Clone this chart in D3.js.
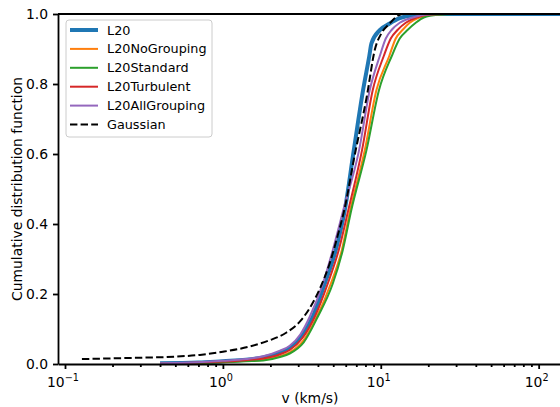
<!DOCTYPE html>
<html lang="en">
<head>
  <meta charset="UTF-8"/>
  <title>Cumulative distribution of v</title>
  <script src="https://d3js.org/d3.v7.min.js"></script>
  <style>
    body { margin: 0; background: white; }
    svg text { font-family: "DejaVu Sans", sans-serif; fill: black; }
  </style>
</head>
<body>
<script>
  var w = 560;
  var h = 407;

  // series names and colours (legend order)
  var names = ["L20", "L20NoGrouping", "L20Standard", "L20Turbulent", "L20AllGrouping", "Gaussian"];
  var colors = ["#1f77b4", "#ff7f0e", "#2ca02c", "#d62728", "#9467bd", "black"];
  var widths = [4, 2, 2, 2, 2, 2];

  // [v (km/s), cdf]
  var l20 = [[0.4,0.002],[0.7,0.004],[1.0,0.008],[1.4,0.012],[1.8,0.019],[2.3,0.032],[2.65,0.045],[3.15,0.08],[3.71,0.135],
    [4.42,0.23],[5.19,0.326],[5.92,0.44],[6.75,0.611],[7.73,0.783],[8.46,0.88],[8.73,0.916],[9.86,0.954],[11.4,0.973],
    [13.19,0.988],[17.15,0.998],[18.99,1.0],[140,1.0]];
  var l20NoGrouping = [[0.4,0.001],[0.7,0.003],[1.0,0.006],[1.4,0.009],[1.8,0.012],[2.3,0.022],[2.65,0.033],[3.25,0.068],[3.94,0.135],
    [4.83,0.23],[5.67,0.326],[6.41,0.44],[7.92,0.611],[9.39,0.783],[11.32,0.88],[12.44,0.93],[13.78,0.955],[15.26,0.975],
    [17.66,0.99],[21.03,0.998],[26.55,1.0],[140,1.0]];
  var l20Standard = [[0.4,0.001],[0.7,0.003],[1.0,0.005],[1.4,0.008],[1.8,0.01],[2.3,0.02],[2.65,0.03],[3.25,0.062],[3.99,0.135],
    [4.97,0.23],[5.75,0.326],[6.51,0.44],[8.12,0.611],[9.75,0.783],[11.74,0.88],[13.19,0.93],[14.83,0.955],[16.66,0.975],
    [18.72,0.99],[22.95,0.998],[29.4,1.0],[140,1.0]];
  var l20Turbulent = [[0.4,0.001],[0.7,0.004],[1.0,0.007],[1.4,0.011],[1.8,0.016],[2.3,0.028],[2.65,0.04],[3.2,0.075],[3.82,0.135],
    [4.62,0.23],[5.42,0.326],[6.23,0.44],[7.61,0.611],[8.9,0.783],[10.45,0.88],[11.57,0.93],[12.81,0.955],[14.4,0.975],
    [16.9,0.99],[19.84,0.998],[25.41,1.0],[140,1.0]];
  var l20AllGrouping = [[0.4,0.002],[0.7,0.005],[1.0,0.009],[1.4,0.014],[1.8,0.022],[2.3,0.038],[2.65,0.052],[3.1,0.085],[3.55,0.135],
    [4.3,0.23],[4.97,0.326],[5.79,0.44],[7.29,0.611],[8.52,0.783],[9.86,0.88],[10.76,0.93],[11.74,0.955],[13.19,0.975],
    [15.94,0.99],[18.99,0.998],[23.63,1.0],[140,1.0]];
  var gaussian = [[0.128,0.014],[0.2,0.016],[0.3,0.018],[0.5,0.021],[0.715,0.026],[1.0,0.035],[1.48,0.05],[1.98,0.068],
    [2.53,0.09],[3.1,0.123],[3.55,0.16],[4.11,0.215],[4.75,0.288],[5.24,0.354],[6.07,0.47],[6.68,0.573],[8.2,0.77],
    [9.16,0.897],[10.1,0.945],[11.4,0.973],[12.8,0.995],[13.5,1.0]];

  var series = [l20, l20NoGrouping, l20Standard, l20Turbulent, l20AllGrouping, gaussian];

  var xMajor = [0.1, 1, 10, 100];
  var xExp = ["\u22121", "0", "1", "2"];
  var yTicks = [0, 0.2, 0.4, 0.6, 0.8, 1.0];

  var plotLeft = 58, plotRight = 586, plotTop = 14, plotBottom = 364;

  var xScale = d3.scaleLog()
          .domain([0.0903, 199.5])
          .range([plotLeft, plotRight]);

  var yScale = d3.scaleLinear()
          .domain([0, 1])
          .range([plotBottom, plotTop]);

  var svg = d3.select("body")
          .append("svg")
          .attr("width", w)
          .attr("height", h);

  svg.append("clipPath")
          .attr("id", "plotclip")
          .append("rect")
          .attr("x", plotLeft)
          .attr("y", plotTop)
          .attr("width", plotRight - plotLeft)
          .attr("height", plotBottom - plotTop);

  var line = d3.line()
          .curve(d3.curveMonotoneX)
          .x(function(d) { return xScale(d[0]); })
          .y(function(d) { return yScale(d[1]); });

  svg.append("g")
          .attr("clip-path", "url(#plotclip)")
          .selectAll("path")
          .data(series)
          .enter()
          .append("path")
          .attr("d", line)
          .attr("fill", "none")
          .attr("stroke", function(d, i) { return colors[i]; })
          .attr("stroke-width", function(d, i) { return widths[i]; })
          .attr("stroke-linejoin", "round")
          .attr("stroke-dasharray", function(d, i) { return names[i] == "Gaussian" ? "7.4,3.2" : null; });

  // x axis: log ticks, labels drawn separately as 10^n
  var minor = [];
  for (var e = -2; e <= 2; e++) {
    for (var k = 2; k <= 9; k++) {
      var v = k * Math.pow(10, e);
      if (v > xScale.domain()[0] && v < xScale.domain()[1]) minor.push(v);
    }
  }

  var xAxis = d3.axisBottom(xScale)
          .tickValues(xMajor)
          .tickSize(5)
          .tickSizeOuter(0)
          .tickFormat("");
  var xMinor = d3.axisBottom(xScale)
          .tickValues(minor)
          .tickSize(3)
          .tickFormat("");

  svg.append("g")
          .attr("transform", "translate(0," + plotBottom + ")")
          .call(xAxis);
  svg.append("g")
          .attr("transform", "translate(0," + plotBottom + ")")
          .call(xMinor)
          .select(".domain").remove();

  var lab = svg.append("g")
          .selectAll("text")
          .data(xMajor)
          .enter()
          .append("text")
          .attr("x", function(d) { return xScale(d) - 2; })
          .attr("y", 387)
          .attr("text-anchor", "middle")
          .style("font-size", "13.9px");
  lab.append("tspan").text("10");
  lab.append("tspan")
          .attr("dy", -6)
          .style("font-size", "9.7px")
          .text(function(d, i) { return xExp[i]; });

  var yAxis = d3.axisLeft(yScale)
          .tickValues(yTicks)
          .tickSize(5)
          .tickSizeOuter(0)
          .tickPadding(5)
          .tickFormat(d3.format(".1f"));

  var gy = svg.append("g")
          .attr("transform", "translate(" + plotLeft + ",0)")
          .call(yAxis);
  gy.selectAll("text")
          .style("font-size", "13.9px")
          .style("font-family", "DejaVu Sans");

  svg.selectAll(".domain, .tick line")
          .attr("stroke", "black")
          .attr("stroke-width", 1.8);

  // top spine
  svg.append("line")
          .attr("x1", plotLeft)
          .attr("x2", plotRight)
          .attr("y1", plotTop)
          .attr("y2", plotTop)
          .attr("stroke", "black")
          .attr("stroke-width", 1.8);

  // axis labels
  svg.append("text")
          .attr("text-anchor", "middle")
          .attr("x", 310)
          .attr("y", 403)
          .style("font-size", "13.9px")
          .text("v (km/s)");

  svg.append("text")
          .attr("text-anchor", "middle")
          .attr("transform", "rotate(-90)")
          .attr("x", -(plotTop + plotBottom) / 2)
          .attr("y", 22)
          .style("font-size", "13.9px")
          .text("Cumulative distribution function");

  // legend
  var legend = svg.append("g");
  legend.append("rect")
          .attr("x", 66)
          .attr("y", 20)
          .attr("width", 146)
          .attr("height", 117)
          .attr("rx", 3)
          .attr("fill", "white")
          .attr("fill-opacity", 0.8)
          .attr("stroke", "#cccccc")
          .attr("stroke-width", 1);

  var item = legend.selectAll(".item")
          .data(names)
          .enter()
          .append("g")
          .attr("transform", function(d, i) { return "translate(70," + (30 + i * 18.9) + ")"; });

  item.append("line")
          .attr("x1", 0)
          .attr("x2", 28)
          .attr("stroke", function(d, i) { return colors[i]; })
          .attr("stroke-width", function(d, i) { return widths[i]; })
          .attr("stroke-dasharray", function(d) { return d == "Gaussian" ? "7.4,3.2" : null; });

  item.append("text")
          .attr("x", 37)
          .attr("y", 4.5)
          .style("font-size", "12.8px")
          .text(function(d) { return d; });
</script>
</body>
</html>
